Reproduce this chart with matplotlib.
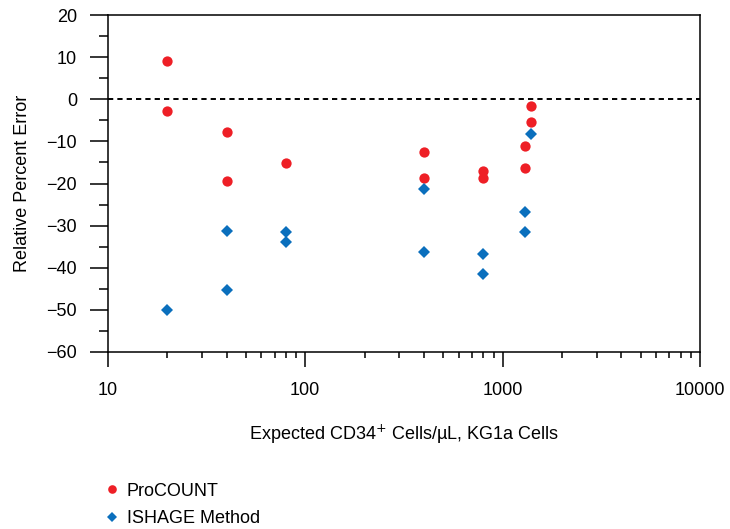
import numpy as np
import matplotlib
matplotlib.use("Agg")
import matplotlib.pyplot as plt
from matplotlib.lines import Line2D
from matplotlib.ticker import LogLocator, NullFormatter, MultipleLocator

plt.rcParams['font.family'] = ['Liberation Sans', 'DejaVu Sans']
plt.rcParams['font.size'] = 13

# ProCOUNT: expected CD34+ cells/uL vs relative percent error
pro_x = [20, 20, 40, 40, 80, 400, 400, 800, 800, 1300, 1300, 1400, 1400]
pro_y = [9.0, -2.7, -7.8, -19.3, -15.1, -12.6, -18.6, -17.0, -18.6, -11.2, -16.3, -1.5, -5.3]

# ISHAGE method
ish_x = [20, 40, 40, 80, 80, 400, 400, 800, 800, 1300, 1300, 1400]
ish_y = [-50.0, -31.2, -45.4, -31.4, -34.0, -21.3, -36.3, -36.7, -41.4, -26.7, -31.5, -8.2]

red = '#ee1f26'
blue = '#0a6fbd'

fig = plt.figure(figsize=(7.30, 5.29), dpi=100)
ax = fig.add_axes([0.1475, 0.3346, 0.8115, 0.637])

ax.plot(pro_x, pro_y, 'o', color=red, ms=7.4, mew=0, zorder=3)
ax.plot(ish_x, ish_y, 'D', color=blue, ms=6.2, mew=0, zorder=3)
ax.axhline(0, color='black', lw=1.4, dashes=(2.7, 2.1), zorder=2)

ax.set_xscale('log')
ax.set_xlim(10, 10000)
ax.set_ylim(-60, 20)
ax.set_xticks([10, 100, 1000, 10000])
ax.set_xticklabels(['10', '100', '1000', '10000'])
ax.xaxis.set_minor_locator(LogLocator(base=10, subs=np.arange(2, 10)))
ax.xaxis.set_minor_formatter(NullFormatter())
ax.yaxis.set_major_locator(MultipleLocator(10))
ax.yaxis.set_minor_locator(MultipleLocator(5))

for s in ax.spines.values():
    s.set_linewidth(1.1)
ax.tick_params(axis='y', which='major', direction='out', length=13, width=1.1, pad=9, labelsize=13)
ax.tick_params(axis='y', which='minor', direction='out', length=6.5, width=1.1)
ax.tick_params(axis='x', which='major', direction='out', length=10.5, width=1.1, pad=11, labelsize=13)
ax.tick_params(axis='x', which='minor', direction='out', length=4.3, width=1.1)

ax.set_ylabel('Relative Percent Error', fontsize=13, labelpad=11)
ax.set_xlabel('Expected CD34$^{+}$ Cells/\u00b5L, KG1a Cells', fontsize=13, labelpad=17)

handles = [
    Line2D([], [], marker='o', ls='none', color=red, ms=6.2, mew=0),
    Line2D([], [], marker='D', ls='none', color=blue, ms=5.2, mew=0),
]
fig.legend(handles, ['ProCOUNT', 'ISHAGE Method'], loc='upper left',
           bbox_to_anchor=(0.1407, 0.0877), frameon=False, borderpad=0,
           borderaxespad=0, handlelength=1.0, handletextpad=0.33,
           labelspacing=0.6, fontsize=13)

fig.savefig('out.png', dpi=100)
